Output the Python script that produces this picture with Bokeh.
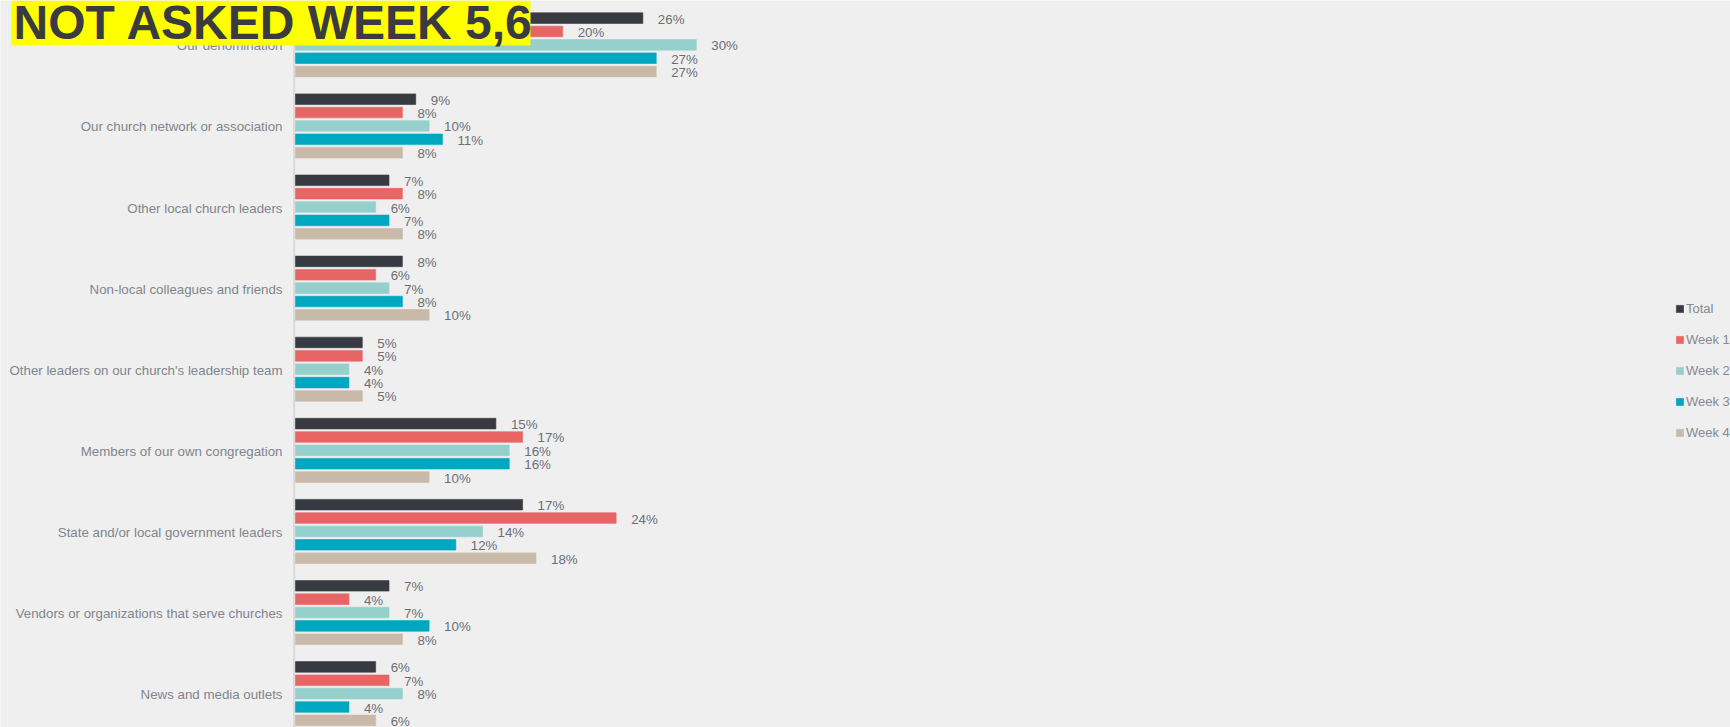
import numpy as np
from bokeh.plotting import figure
from bokeh.models import Range1d, Label, BoxAnnotation, Legend, LegendItem, Span
from bokeh.core.properties import value
from bokeh.embed import file_html
from bokeh.resources import INLINE

# ---------------- data ----------------
categories = [
    "Our denomination",
    "Our church network or association",
    "Other local church leaders",
    "Non-local colleagues and friends",
    "Other leaders on our church's leadership team",
    "Members of our own congregation",
    "State and/or local government leaders",
    "Vendors or organizations that serve churches",
    "News and media outlets",
]
series_names = ["Total", "Week 1", "Week 2", "Week 3", "Week 4"]
total = [26, 9, 7, 8, 5, 15, 17, 7, 6]
week1 = [20, 8, 8, 6, 5, 17, 24, 4, 7]
week2 = [30, 10, 6, 7, 4, 16, 14, 7, 8]
week3 = [27, 11, 7, 8, 4, 16, 12, 10, 4]
week4 = [27, 8, 8, 10, 5, 10, 18, 8, 6]
series_values = [total, week1, week2, week3, week4]
colors = ["#373a40", "#e86565", "#95d0cd", "#00a7c1", "#c9b9a9"]
title_text = "NOT ASKED WEEK 5,6"

# ---------------- layout ----------------
W, H = 1730, 727
X0 = 295.0          # pixel of the 0 % line
PX_PER_PCT = 13.36
TOP = 17.6          # centre of first bar (px)
GROUP = 81.1        # group pitch (px)
SLOT = 13.37        # bar pitch (px)
BAR_H = 10.6
BG = "#efefef"
FONT = "Liberation Sans"


def px_x(px):
    return (px - X0) / PX_PER_PCT


p = figure(width=W, height=H, output_backend="svg", toolbar_location=None,
           x_range=Range1d(px_x(0), px_x(W)), y_range=Range1d(H, 0),
           min_border=0, x_axis_location=None, y_axis_location=None)
p.grid.visible = False
p.outline_line_color = None
p.background_fill_color = BG
p.border_fill_color = BG

# vertical zero line
p.add_layout(Span(location=-0.1, dimension="height", line_color="#d9d9d9", line_width=2, level="underlay"))

g_idx = np.arange(len(categories))
legend_items = []
for j, (name, vals, col) in enumerate(zip(series_names, series_values, colors)):
    ys = TOP + g_idx * GROUP + j * SLOT
    r = p.hbar(y=ys, left=0, right=vals, height=BAR_H, fill_color=col, line_color=col, line_alpha=0.6)
    p.text(x=vals, y=ys, text=[f"{v}%" for v in vals], x_offset=15, y_offset=1,
           text_baseline="middle", text_align="left", text_font=value(FONT),
           text_font_size="13.3px", text_color="#6b6e75")
    legend_items.append(LegendItem(label=name, renderers=[r]))

# category labels
p.text(x=np.zeros(len(categories)), y=TOP + g_idx * GROUP + 2 * SLOT, text=categories,
       x_offset=-13, y_offset=1, text_align="right", text_baseline="middle",
       text_font=value(FONT), text_font_size="13.3px", text_color="#80858e")

legend = Legend(items=legend_items, location=(1675, 285), orientation="vertical",
                glyph_width=9, glyph_height=9, label_height=20, label_standoff=2,
                spacing=11, padding=0, margin=0, border_line_alpha=0,
                background_fill_alpha=0, label_text_font=FONT,
                label_text_font_size="13px", label_text_color="#858a93")
p.add_layout(legend)

# title banner
p.add_layout(BoxAnnotation(left=px_x(11), right=px_x(530), top=0, bottom=45,
                           fill_color="#ffff00", fill_alpha=1, line_color=None))
p.add_layout(Label(x=px_x(13), y=22, text=title_text, text_font=FONT,
                   text_font_style="bold", text_font_size="48px", text_color="#393b40",
                   text_baseline="middle", text_align="left"))

open("out.html", "w").write(file_html(p, INLINE))
